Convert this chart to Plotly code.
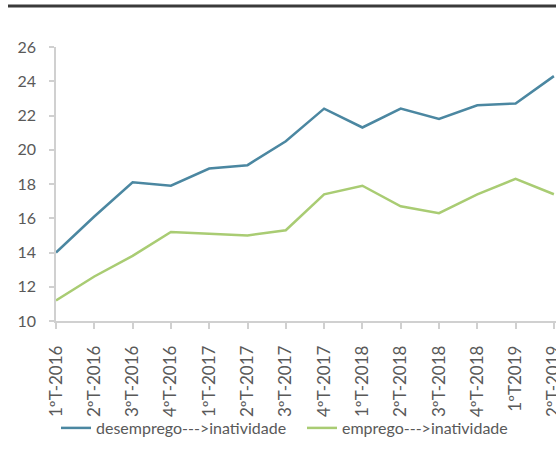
import plotly.graph_objects as go

# Quarterly flows into inactivity (%)
quarters = ["1ºT-2016", "2ºT-2016", "3ºT-2016", "4ºT-2016",
            "1ºT-2017", "2ºT-2017", "3ºT-2017", "4ºT-2017",
            "1ºT-2018", "2ºT-2018", "3ºT-2018", "4ºT-2018",
            "1ºT2019", "2ºT-2019"]
desemprego_inatividade = [14.0, 16.1, 18.1, 17.9, 18.9, 19.1, 20.5, 22.4,
                          21.3, 22.4, 21.8, 22.6, 22.7, 24.3]
emprego_inatividade = [11.2, 12.6, 13.8, 15.2, 15.1, 15.0, 15.3, 17.4,
                       17.9, 16.7, 16.3, 17.4, 18.3, 17.4]

W, H = 556, 457
L, T, B = 56, 47, 136
plot_w = W - L
plot_h = H - T - B
step = 38.3  # px between consecutive quarters

font_family = "Lato, 'Open Sans', sans-serif"
grey = "#595959"
axis_grey = "#d0d0d0"


def px_x(p):
    return (p - L) / plot_w


def px_y(p):
    return (T + plot_h - p) / plot_h


fig = go.Figure()
fig.add_trace(go.Scatter(
    x=list(range(len(quarters))), y=desemprego_inatividade,
    mode="lines", name="desemprego--->inatividade",
    line=dict(color="#4b87a1", width=2.5), legend="legend",
))
fig.add_trace(go.Scatter(
    x=list(range(len(quarters))), y=emprego_inatividade,
    mode="lines", name="emprego--->inatividade",
    line=dict(color="#a9cc73", width=2.5), legend="legend2",
))

# heavy rule across the top
fig.add_shape(type="line", xref="paper", yref="paper",
              x0=px_x(8), x1=1.0, y0=px_y(6), y1=px_y(6),
              line=dict(color="#3a3a3a", width=3))

legend_common = dict(orientation="h", yanchor="middle", xanchor="left",
                     font=dict(size=16, color=grey),
                     bgcolor="rgba(0,0,0,0)")

fig.update_layout(
    width=W, height=H,
    margin=dict(l=L, r=0, t=T, b=B, pad=0, autoexpand=False),
    paper_bgcolor="white", plot_bgcolor="white",
    font=dict(family=font_family, size=13, color=grey),
    showlegend=True,
    legend=dict(x=px_x(56), y=px_y(428), **legend_common),
    legend2=dict(x=px_x(302), y=px_y(428), **legend_common),
    xaxis=dict(
        range=[0, plot_w / step], automargin=False,
        tickmode="array", tickvals=list(range(len(quarters))), ticktext=quarters,
        tickangle=-90, showgrid=False, zeroline=False,
        showline=True, linecolor=axis_grey, linewidth=1.5,
        ticks="outside", ticklen=6, tickcolor=axis_grey, tickwidth=1.5,
        ticklabelstandoff=10, ticklabeloverflow="allow",
        tickfont=dict(size=17, color=grey),
    ),
    yaxis=dict(
        range=[10, 26], automargin=False,
        tickmode="linear", tick0=10, dtick=2,
        showgrid=False, zeroline=False,
        showline=True, linecolor=axis_grey, linewidth=1.5,
        ticks="outside", ticklen=5, tickcolor=axis_grey, tickwidth=1.5,
        ticklabelstandoff=10,
        tickfont=dict(size=16, color=grey),
    ),
)

fig.write_html("out.html")
